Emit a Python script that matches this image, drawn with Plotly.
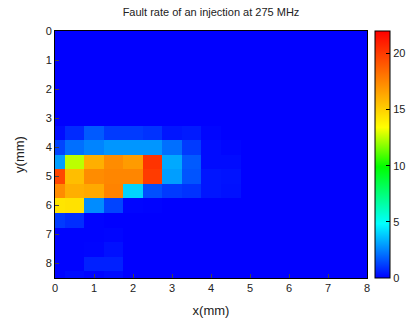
import plotly.graph_objects as go

x_mm = [0.0, 0.5, 1.0, 1.5, 2.0, 2.5, 3.0, 3.5, 4.0, 4.5, 5.0, 5.5, 6.0, 6.5, 7.0, 7.5, 8.0]
y_mm = [0.0, 0.5, 1.0, 1.5, 2.0, 2.5, 3.0, 3.5, 4.0, 4.5, 5.0, 5.5, 6.0, 6.5, 7.0, 7.5, 8.0, 8.5]

# fault rate per row (y), columns follow x_mm
zero_row = [0.0] * 17
row_3_5 = [0.2, 0.8, 1.7, 1.1, 1.1, 0.95, 0.4, 0.5, 0.1, 0.0, 0, 0, 0, 0, 0, 0, 0]
row_4_0 = [1.3, 2.1, 2.5, 2.85, 2.85, 2.85, 2.1, 1.1, 0.2, 0.1, 0, 0, 0, 0, 0, 0, 0]
row_4_5 = [3.0, 12.5, 16.1, 17.3, 16.8, 20.3, 3.2, 1.7, 0.2, 0.2, 0, 0, 0, 0, 0, 0, 0]
row_5_0 = [19.6, 15.6, 17.3, 17.5, 17.5, 20.0, 3.0, 1.6, 0.4, 0.35, 0, 0, 0, 0, 0, 0, 0]
row_5_5 = [17.3, 16.1, 16.3, 17.6, 4.0, 1.5, 1.1, 0.95, 0.4, 0.3, 0, 0, 0, 0, 0, 0, 0]
row_6_0 = [14.3, 14.4, 2.65, 1.3, 0.1, 0.05, 0, 0, 0, 0, 0, 0, 0, 0, 0, 0, 0]
row_6_5 = [1.1, 0.85, 0.05, 0, 0, 0, 0, 0, 0, 0, 0, 0, 0, 0, 0, 0, 0]
row_7_0 = [0.05, 0.05, 0.05, 0.1, 0, 0, 0, 0, 0, 0, 0, 0, 0, 0, 0, 0, 0]
row_7_5 = [0.05, 0.05, 0.1, 0.3, 0, 0, 0, 0, 0, 0, 0, 0, 0, 0, 0, 0, 0]
row_8_0 = [0.05, 0.05, 0.6, 0.6, 0, 0, 0, 0, 0, 0, 0, 0, 0, 0, 0, 0, 0]
row_8_5 = [0.05, 0.2, 0.1, 0.2, 0, 0, 0, 0, 0, 0, 0, 0, 0, 0, 0, 0, 0]

z = [zero_row, zero_row, zero_row, zero_row, zero_row, zero_row, zero_row,
     row_3_5, row_4_0, row_4_5, row_5_0, row_5_5, row_6_0, row_6_5,
     row_7_0, row_7_5, row_8_0, row_8_5]

x_ticks = [0, 1, 2, 3, 4, 5, 6, 7, 8]
y_ticks = [0, 1, 2, 3, 4, 5, 6, 7, 8]
cb_ticks = [0, 5, 10, 15, 20]

colorscale = [
    [0.0, "rgb(0,0,255)"],
    [0.22, "rgb(0,255,255)"],
    [0.45, "rgb(0,255,0)"],
    [0.61, "rgb(255,255,0)"],
    [1.0, "rgb(255,0,0)"],
]

font = dict(family="Liberation Sans, Arial, sans-serif", size=11, color="#222")

fig = go.Figure(go.Heatmap(
    x=x_mm, y=y_mm, z=z, zmin=0, zmax=22,
    colorscale=colorscale,
    colorbar=dict(
        x=1.0256, xanchor="left", xref="paper",
        y=0.5, yanchor="middle", len=1.0, lenmode="fraction",
        thickness=15, outlinewidth=1, outlinecolor="black",
        tickvals=cb_ticks, ticks="inside", ticklen=4, tickcolor="black",
        tickfont=font, ypad=0, xpad=0,
    ),
))

fig.update_layout(
    width=412, height=320,
    margin=dict(l=55, r=45, t=31, b=42, autoexpand=False),
    paper_bgcolor="white", plot_bgcolor="white",
    font=font,
    title=dict(text="Fault rate of an injection at 275 MHz", x=0.5, xref="paper",
               y=0.962, yanchor="middle", font=dict(size=11)),
    xaxis=dict(range=[0, 8], tickvals=x_ticks, showline=True, linecolor="black",
               mirror=True, ticks="inside", ticklen=4, showgrid=False, zeroline=False,
               automargin=False, title=dict(text="x(mm)", standoff=12)),
    yaxis=dict(range=[8.5, 0], tickvals=y_ticks, showline=True, linecolor="black",
               mirror=True, ticks="inside", ticklen=4, showgrid=False, zeroline=False,
               automargin=False, title=dict(text="y(mm)", standoff=18)),
)

fig.write_html("out.html", config={"displayModeBar": False},
               post_script="document.body.style.margin='0';")
